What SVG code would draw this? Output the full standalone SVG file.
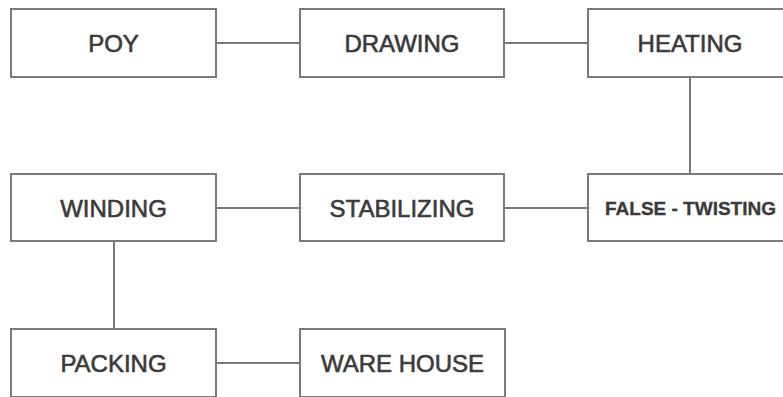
<svg xmlns="http://www.w3.org/2000/svg" width="783" height="397" viewBox="0 0 783 397">
  <style>
    .box rect { fill: #ffffff; stroke: #7a7a7a; stroke-width: 2; }
    .box text { font-family: "Liberation Sans", Arial, sans-serif; font-size: 24px; fill: #3a3a3a; stroke: #3a3a3a; stroke-width: 0.6; text-anchor: middle; }
    .box text.small { font-size: 19px; font-weight: bold; stroke-width: 0.3; }
    #connectors line { stroke: #7a7a7a; stroke-width: 2; }
  </style>
  <rect width="783" height="397" fill="#ffffff"/>

  <g id="connectors">
    <line x1="216" y1="43" x2="300" y2="43"/>
    <line x1="504" y1="43" x2="588" y2="43"/>
    <line x1="690" y1="77" x2="690" y2="174"/>
    <line x1="216" y1="208" x2="300" y2="208"/>
    <line x1="504" y1="208" x2="588" y2="208"/>
    <line x1="114" y1="241" x2="114" y2="329"/>
    <line x1="216" y1="363" x2="300" y2="363"/>
  </g>

  <g id="poy" class="box">
    <rect x="11" y="9" width="205" height="68"/>
    <text x="113.5" y="51.5">POY</text>
  </g>
  <g id="drawing" class="box">
    <rect x="300" y="9" width="204" height="68"/>
    <text x="402" y="51.5">DRAWING</text>
  </g>
  <g id="heating" class="box">
    <rect x="588" y="9" width="205" height="68"/>
    <text x="690" y="51.5">HEATING</text>
  </g>
  <g id="false-twisting" class="box">
    <rect x="588" y="174" width="205" height="67"/>
    <text class="small" x="690.5" y="215">FALSE - TWISTING</text>
  </g>
  <g id="stabilizing" class="box">
    <rect x="300" y="174" width="204" height="67"/>
    <text x="402" y="216.5">STABILIZING</text>
  </g>
  <g id="winding" class="box">
    <rect x="11" y="174" width="205" height="67"/>
    <text x="113.5" y="216.5">WINDING</text>
  </g>
  <g id="packing" class="box">
    <rect x="11" y="329" width="205" height="68"/>
    <text x="113.5" y="371.5">PACKING</text>
  </g>
  <g id="ware-house" class="box">
    <rect x="300" y="329" width="205" height="68"/>
    <text x="402.5" y="371.5">WARE HOUSE</text>
  </g>
</svg>
